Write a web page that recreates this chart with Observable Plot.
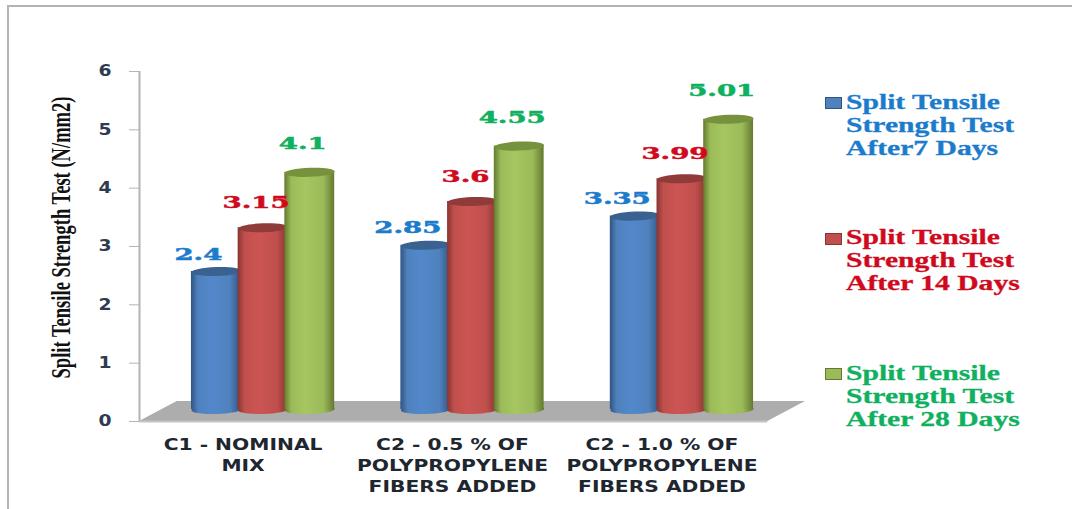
<!DOCTYPE html>
<html>
<head>
<meta charset="utf-8">
<script src="https://cdn.jsdelivr.net/npm/d3@7"></script>
<script src="https://cdn.jsdelivr.net/npm/@observablehq/plot@0.6"></script>
<style>
  html, body { margin: 0; padding: 0; background: #fff; }
  #page { position: relative; width: 1072px; height: 509px; overflow: hidden; }
  #page svg { position: absolute; left: 0; top: 0; background: transparent; }
  #sheet { position: absolute; left: 7px; top: 5px; right: -4px; bottom: -4px;
           border-left: 2px solid #b4b4b4; border-top: 2px solid #b4b4b4; }
  .entry { position: absolute; left: 825px; }
  .entry i { position: absolute; left: 0; width: 15px; height: 10px; border: 1px solid; }
  .entry span { position: absolute; left: 21px; top: 0; white-space: nowrap; transform-origin: 0 0;
                transform: scaleX(1.48); font: bold 20px/23px "Liberation Serif", serif;
                -webkit-text-stroke: 0.3px currentColor; }
</style>
</head>
<body>
<div id="page"><div id="sheet"></div></div>
<script>
// Split tensile strength (N/mm2) of each mix at three curing ages
const categories = [
  "C1 - NOMINAL\nMIX",
  "C2 - 0.5 % OF\nPOLYPROPYLENE\nFIBERS ADDED",
  "C2 - 1.0 % OF\nPOLYPROPYLENE\nFIBERS ADDED"
];
const after7Days = [2.4, 2.85, 3.35];
const after14Days = [3.15, 3.6, 3.99];
const after28Days = [4.1, 4.55, 5.01];
const yTicks = [0, 1, 2, 3, 4, 5, 6];
const legendLabels = [
  "Split Tensile\nStrength Test\nAfter7 Days",
  "Split Tensile\nStrength Test\nAfter 14 Days",
  "Split Tensile\nStrength Test\nAfter 28 Days"
];

// Look of each series: cylinder shading, lid colour, value label placement
const series = [
  {id: "blue", values: after7Days, slot: -1, ink: "#1c7ccb", lid: "#3a6291", edge: "#2f5583", mid: "#5288cb", base: "#4f81bd", labelDx: -18, labelDy: -27, legendTop: 91, swatchTop: 97},
  {id: "red", values: after14Days, slot: 0, ink: "#d00a1e", lid: "#8f3b39", edge: "#8a3432", mid: "#cc5552", base: "#c0504d", labelDx: -7, labelDy: -35, legendTop: 226, swatchTop: 233},
  {id: "green", values: after28Days, slot: 1, ink: "#0fb060", lid: "#76923c", edge: "#64792f", mid: "#a5c660", base: "#9bbb59", labelDx: -7, labelDy: -38, legendTop: 362, swatchTop: 368}
];

const xDomain = [-0.59, 2.59];
const slotStep = 0.223;
const halfBar = 0.119;
const rows = s => s.values.map((value, group) => ({value, x: group + s.slot * slotStep}));

// Elliptical symbol for the lids and feet of the cylinders
const lidShape = {
  draw(ctx, size) {
    const rx = Math.sqrt(size / Math.PI), ry = rx * 0.18, kx = rx * 0.5523, ky = ry * 0.5523;
    ctx.moveTo(-rx, 0);
    ctx.bezierCurveTo(-rx, -ky, -kx, -ry, 0, -ry);
    ctx.bezierCurveTo(kx, -ry, rx, -ky, rx, 0);
    ctx.bezierCurveTo(rx, ky, kx, ry, 0, ry);
    ctx.bezierCurveTo(-kx, ry, -rx, ky, -rx, 0);
    ctx.closePath();
  }
};

// Horizontal shading that makes the bars read as cylinders
const gradients = () => {
  const ns = "http://www.w3.org/2000/svg";
  const defs = document.createElementNS(ns, "defs");
  for (const s of series) {
    const g = document.createElementNS(ns, "linearGradient");
    g.setAttribute("id", "shade-" + s.id);
    for (const [offset, color] of [[0, s.edge], [0.14, s.base], [0.42, s.mid], [0.78, s.base], [1, s.edge]]) {
      const stop = document.createElementNS(ns, "stop");
      stop.setAttribute("offset", offset);
      stop.setAttribute("stop-color", color);
      g.appendChild(stop);
    }
    defs.appendChild(g);
  }
  return defs;
};

// The floor of the chart, a parallelogram receding behind the zero line
const floorRows = [
  {y: 0, x1: xDomain[0], x2: 2.41},
  {y: 0.343, x1: -0.41, x2: xDomain[1]}
];

const cylinders = series.flatMap(s => [
  Plot.dot(rows(s), {x: "x", y: 0, dy: -12, r: 25, symbol: lidShape, rotate: -2, fill: `url(#shade-${s.id})`}),
  Plot.rectY(rows(s), {
    x1: d => d.x - halfBar, x2: d => d.x + halfBar, y1: 0, y2: "value",
    dy: -10, insetBottom: 2, fill: `url(#shade-${s.id})`
  }),
  Plot.dot(rows(s), {x: "x", y: "value", dy: -10, r: 25, symbol: lidShape, rotate: -2, fill: s.lid})
]);

const valueLabels = series.map(s => Plot.text(rows(s), {
  x: "x", y: "value", text: d => String(d.value), className: "value-label",
  dx: s.labelDx, dy: s.labelDy, fill: s.ink, stroke: s.ink, strokeWidth: 0.5,
  fontFamily: "'DejaVu Serif', serif", fontWeight: "bold", fontSize: 16
}));

const chart = Plot.plot({
  width: 1072,
  height: 509,
  marginLeft: 139,
  marginRight: 267,
  marginTop: 71,
  marginBottom: 88,
  style: {background: "transparent", overflow: "visible"},
  x: {domain: xDomain},
  y: {domain: [0, 6]},
  marks: [
    gradients,
    Plot.areaX(floorRows, {x1: "x1", x2: "x2", y: "y", fill: "#adadad"}),
    Plot.ruleY([0], {x1: xDomain[0], x2: 2.41, stroke: "#c4c4c4", strokeWidth: 2}),
    Plot.ruleX([xDomain[0]], {y1: 0, y2: 6, stroke: "#b4b4b4", strokeWidth: 2}),
    Plot.axisY({
      ticks: yTicks, tickFormat: d => String(d), tickSize: 10, tickPadding: 18, label: null,
      stroke: "#b4b4b4", fill: "#2d3c50",
      fontFamily: "'DejaVu Sans', sans-serif", fontSize: 15, fontWeight: "bold"
    }),
    Plot.axisX({
      ticks: [0, 1, 2], tickSize: 0, tickPadding: 13, dx: -20, label: null,
      tickFormat: i => categories[i], lineHeight: 1.42, fill: "#1e2630",
      fontFamily: "'DejaVu Sans', sans-serif", fontSize: 15, fontWeight: "bold"
    }),
    ...cylinders,
    ...valueLabels,
    Plot.text(["Split Tensile Strength Test (N/mm2)"], {
      frameAnchor: "left", textAnchor: "middle", dx: -78, dy: -9, rotate: -90, className: "axis-title",
      fill: "#111", fontFamily: "'Liberation Serif', serif", fontWeight: "bold", fontSize: 27
    })
  ]
});

const page = document.getElementById("page");
page.appendChild(chart);

// Text is stretched or condensed along its baseline once it can be measured
const fit = (el, length) => {
  el.setAttribute("textLength", length);
  el.setAttribute("lengthAdjust", "spacingAndGlyphs");
};
chart.querySelectorAll(".value-label text").forEach(t => fit(t, t.getComputedTextLength() * 1.72));
chart.querySelectorAll(".axis-title text").forEach(t => fit(t, 282));
chart.querySelectorAll('g[aria-label="y-axis tick label"] text').forEach(t => fit(t, t.getComputedTextLength() * 1.25));
chart.querySelectorAll('g[aria-label="x-axis tick label"] tspan').forEach(t => fit(t, t.getComputedTextLength() * 1.35));

// Legend at the right of the plot
series.forEach((s, k) => {
  const entry = document.createElement("div");
  entry.className = "entry";
  entry.style.top = "0";
  const swatch = document.createElement("i");
  swatch.style.top = s.swatchTop + "px";
  swatch.style.background = s.base;
  swatch.style.borderColor = s.edge;
  entry.appendChild(swatch);
  const label = document.createElement("span");
  label.style.top = s.legendTop + "px";
  label.style.color = s.ink;
  label.innerHTML = legendLabels[k].split("\n").join("<br>");
  entry.appendChild(label);
  page.appendChild(entry);
});
</script>
</body>
</html>
